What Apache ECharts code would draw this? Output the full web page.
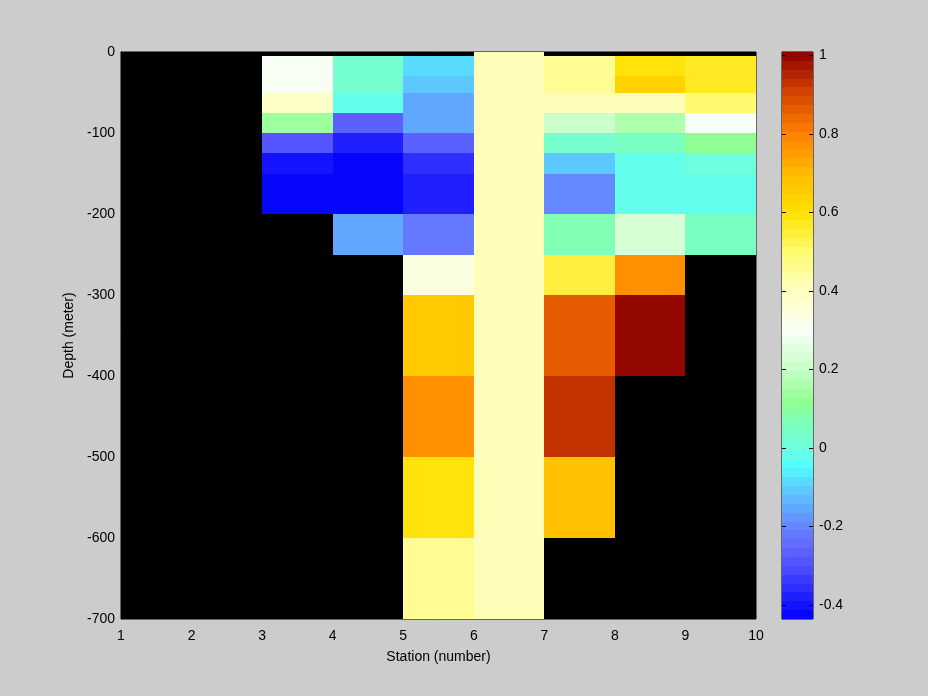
<!DOCTYPE html>
<html>
<head>
<meta charset="utf-8">
<script src="https://cdn.jsdelivr.net/npm/echarts@6/dist/echarts.min.js"></script>
<style>
html,body{margin:0;padding:0;background:#cccccc;}
#chart{width:928px;height:696px;}
</style>
</head>
<body>
<div id="chart"></div>
<script>
// ---- DATA ----
const stationTicks = [1, 2, 3, 4, 5, 6, 7, 8, 9, 10];
const depthEdges = [0, -5, -30, -50, -75, -100, -125, -150, -200, -250, -300, -400, -500, -600, -700];
// values per row (row k spans depthEdges[k] .. depthEdges[k+1]); null = no data
const col1to2 = [null, null, null, null, null, null, null, null, null, null, null, null, null, null];
const col2to3 = [null, null, null, null, null, null, null, null, null, null, null, null, null, null];
const col3to4 = [null, 0.29, 0.29, 0.38, 0.13, -0.30, -0.40, -0.436, null, null, null, null, null, null];
const col4to5 = [null, 0.02, 0.02, -0.01, -0.27, -0.38, -0.436, -0.436, -0.15, null, null, null, null, null];
const col5to6 = [null, -0.09, -0.12, -0.15, -0.15, -0.27, -0.36, -0.38, -0.23, 0.35, 0.66, 0.76, 0.60, 0.46];
const col6to7 = [0.40, 0.40, 0.40, 0.40, 0.40, 0.40, 0.40, 0.40, 0.40, 0.40, 0.40, 0.40, 0.40, 0.40];
const col7to8 = [null, 0.46, 0.46, 0.40, 0.20, 0.03, -0.12, -0.20, 0.08, 0.55, 0.87, 0.94, 0.68, null];
const col8to9 = [null, 0.60, 0.63, 0.40, 0.17, 0.06, -0.01, -0.01, 0.24, 0.76, 1.0, null, null, null];
const col9to10 = [null, 0.56, 0.57, 0.50, 0.29, 0.12, 0.0, -0.01, 0.06, null, null, null, null, null];
const columns = [col1to2, col2to3, col3to4, col4to5, col5to6, col6to7, col7to8, col8to9, col9to10];
const colorbarTicks = [-0.4, -0.2, 0, 0.2, 0.4, 0.6, 0.8, 1];
const CMIN = -0.436, CMAX = 1.008, NLEV = 64;

// ---- colormap (style) ----
const stops = [
  [-0.436, [0, 0, 255]],
  [-0.40, [20, 20, 255]],
  [-0.30, [80, 80, 255]],
  [-0.24, [100, 110, 255]],
  [-0.20, [100, 135, 255]],
  [-0.10, [92, 205, 255]],
  [-0.05, [80, 255, 255]],
  [0.00, [110, 255, 222]],
  [0.06, [125, 255, 188]],
  [0.12, [145, 255, 145]],
  [0.20, [200, 255, 200]],
  [0.30, [248, 255, 245]],
  [0.40, [255, 255, 192]],
  [0.50, [255, 250, 110]],
  [0.60, [255, 225, 0]],
  [0.70, [255, 185, 0]],
  [0.80, [255, 128, 0]],
  [0.90, [215, 70, 0]],
  [1.008, [140, 0, 0]]
];
function interp(v) {
  if (v <= stops[0][0]) return stops[0][1];
  for (let i = 1; i < stops.length; i++) {
    if (v <= stops[i][0]) {
      const a = stops[i - 1], b = stops[i];
      const t = (v - a[0]) / (b[0] - a[0]);
      return a[1].map((c, j) => Math.round(c + (b[1][j] - c) * t));
    }
  }
  return stops[stops.length - 1][1];
}
const levelColors = [];
for (let i = 0; i < NLEV; i++) {
  const c = interp(CMIN + (i + 0.5) * (CMAX - CMIN) / NLEV);
  levelColors.push('rgb(' + c.join(',') + ')');
}
function levelOf(v) {
  let i = Math.floor((v - CMIN) / (CMAX - CMIN) * NLEV);
  return Math.max(0, Math.min(NLEV - 1, i));
}

// ---- build series data ----
const cells = [];
columns.forEach((col, ci) => {
  col.forEach((v, ri) => {
    if (v === null) return;
    cells.push([stationTicks[ci], stationTicks[ci + 1], depthEdges[ri], depthEdges[ri + 1], v]);
  });
});
const bands = [];
for (let i = 0; i < NLEV; i++) {
  bands.push([0, 1, CMIN + i * (CMAX - CMIN) / NLEV, CMIN + (i + 1) * (CMAX - CMIN) / NLEV, i]);
}

function rectItem(api, fill) {
  const p0 = api.coord([api.value(0), api.value(2)]);
  const p1 = api.coord([api.value(1), api.value(3)]);
  const x0 = Math.round(Math.min(p0[0], p1[0])), x1 = Math.round(Math.max(p0[0], p1[0]));
  const y0 = Math.round(Math.min(p0[1], p1[1])), y1 = Math.round(Math.max(p0[1], p1[1]));
  return { type: 'rect', shape: { x: x0, y: y0, width: x1 - x0, height: y1 - y0 }, style: { fill: fill } };
}

const FONT = 'Liberation Sans';
const chart = echarts.init(document.getElementById('chart'), null, { renderer: 'canvas' });
chart.setOption({
  backgroundColor: '#cccccc',
  animation: false,
  textStyle: { fontFamily: FONT },
  grid: [
    { left: 121, top: 52, width: 635, height: 567, show: true, backgroundColor: '#000000', borderColor: '#000000', borderWidth: 1 },
    { left: 782, top: 52, width: 31, height: 567, show: true, backgroundColor: '#cccccc', borderColor: '#000000', borderWidth: 1 }
  ],
  xAxis: [
    { type: 'value', gridIndex: 0, min: 1, max: 10, interval: 1,
      name: 'Station (number)', nameLocation: 'middle', nameGap: 31,
      nameTextStyle: { color: '#000', fontSize: 14, fontFamily: FONT },
      axisLine: { show: true, lineStyle: { color: '#000' } },
      axisTick: { show: false }, splitLine: { show: false },
      axisLabel: { color: '#000', fontSize: 14, fontFamily: FONT, margin: 10 } },
    { type: 'value', gridIndex: 1, min: 0, max: 1, show: false }
  ],
  yAxis: [
    { type: 'value', gridIndex: 0, min: -700, max: 0, interval: 100,
      name: 'Depth (meter)', nameLocation: 'middle', nameGap: 33, nameRotate: 90,
      nameTextStyle: { color: '#000', fontSize: 14, fontFamily: FONT },
      axisLine: { show: true, lineStyle: { color: '#000' } },
      axisTick: { show: false }, splitLine: { show: false },
      axisLabel: { color: '#000', fontSize: 14, fontFamily: FONT, margin: 6 } },
    { type: 'value', gridIndex: 1, position: 'right', min: CMIN, max: CMAX,
      axisLine: { show: true, lineStyle: { color: '#000' } },
      axisTick: { show: false },
      splitLine: { show: false },
      axisLabel: { color: '#000', fontSize: 14, fontFamily: FONT, margin: 6, customValues: colorbarTicks,
        formatter: v => String(Math.round(v * 10) / 10) } }
  ],
  series: [
    { type: 'custom', xAxisIndex: 0, yAxisIndex: 0, data: cells, clip: true,
      renderItem: (params, api) => rectItem(api, levelColors[levelOf(api.value(4))]) },
    { type: 'custom', xAxisIndex: 1, yAxisIndex: 1, data: bands, clip: true, z: 1,
      renderItem: (params, api) => rectItem(api, levelColors[api.value(4)]) },
    { type: 'custom', xAxisIndex: 1, yAxisIndex: 1, data: colorbarTicks.map(v => [v]), z: 5, silent: true,
      renderItem: (params, api) => {
        const pl = api.coord([0, api.value(0)]);
        const pr = api.coord([1, api.value(0)]);
        const y = Math.round(pl[1]) + 0.5;
        const st = { stroke: '#000', lineWidth: 1 };
        return { type: 'group', children: [
          { type: 'line', shape: { x1: pl[0], y1: y, x2: pl[0] + 4, y2: y }, style: st },
          { type: 'line', shape: { x1: pr[0] - 4, y1: y, x2: pr[0], y2: y }, style: st }
        ] };
      } }
  ]
});
</script>
</body>
</html>
